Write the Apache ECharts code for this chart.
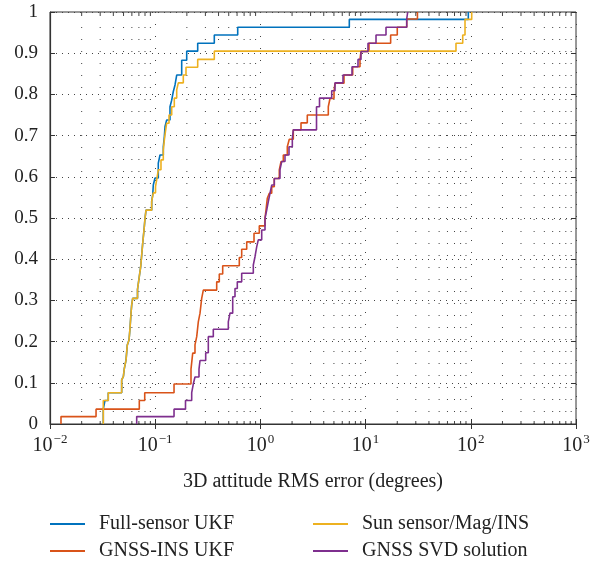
<!DOCTYPE html>
<html>
<head>
<meta charset="utf-8">
<script src="https://cdn.jsdelivr.net/npm/echarts@6/dist/echarts.min.js"></script>
<style>
  html, body { margin: 0; padding: 0; background: #fff; }
  #chart { width: 608px; height: 562px; }
</style>
</head>
<body>
<div id="chart"></div>
<script>
// empirical CDF steps: error (deg) where each curve jumps, and the level it jumps to
const fullX = [0.0321, 0.0333, 0.0358, 0.0480, 0.0498, 0.0509, 0.0528, 0.0543, 0.0564, 0.0576, 0.0589, 0.0598, 0.0611, 0.0679, 0.0706, 0.0728, 0.0744, 0.0761, 0.0783, 0.0800, 0.0818, 0.0926, 0.0947, 0.0959, 0.0996, 0.1070, 0.1111, 0.1194, 0.1221, 0.1240, 0.1286, 0.1382, 0.1435, 0.1486, 0.1543, 0.1601, 0.1786, 0.1993, 0.2535, 0.3646, 0.6085, 7.0, 94.7];
const fullY = [0.036, 0.057, 0.076, 0.107, 0.115, 0.135, 0.155, 0.192, 0.204, 0.232, 0.269, 0.289, 0.305, 0.327, 0.358, 0.382, 0.410, 0.439, 0.471, 0.499, 0.519, 0.540, 0.556, 0.580, 0.597, 0.633, 0.653, 0.673, 0.697, 0.722, 0.738, 0.770, 0.786, 0.807, 0.823, 0.847, 0.883, 0.905, 0.924, 0.944, 0.963, 0.982, 1.0];

const gnssInsX = [0.01272, 0.0274, 0.0706, 0.0795, 0.151, 0.2189, 0.2273, 0.2389, 0.2481, 0.2569, 0.2667, 0.2767, 0.2866, 0.3842, 0.4067, 0.4381, 0.6301, 0.6640, 0.7411, 0.8695, 0.9761, 1.106, 1.130, 1.163, 1.215, 1.281, 1.355, 1.512, 1.570, 1.651, 1.802, 1.882, 2.055, 2.432, 2.791, 4.420, 4.588, 5.008, 5.119, 6.233, 7.542, 8.846, 9.04, 10.77, 17.3, 20.0, 24.6, 31.1];
const gnssInsY = [0.018, 0.036, 0.057, 0.076, 0.097, 0.133, 0.172, 0.192, 0.212, 0.248, 0.269, 0.305, 0.325, 0.345, 0.364, 0.384, 0.404, 0.424, 0.442, 0.463, 0.481, 0.500, 0.519, 0.548, 0.560, 0.576, 0.596, 0.617, 0.637, 0.653, 0.673, 0.691, 0.714, 0.731, 0.750, 0.770, 0.790, 0.807, 0.827, 0.847, 0.867, 0.885, 0.904, 0.924, 0.944, 0.963, 0.983, 1.0];

const sunMagX = [0.0321, 0.0358, 0.0480, 0.0498, 0.0509, 0.0528, 0.0543, 0.0564, 0.0576, 0.0589, 0.0598, 0.0611, 0.0679, 0.0706, 0.0728, 0.0744, 0.0761, 0.0783, 0.0800, 0.0818, 0.0926, 0.0959, 0.1007, 0.1040, 0.1070, 0.1135, 0.1194, 0.1221, 0.1253, 0.1286, 0.1353, 0.1435, 0.1519, 0.1601, 0.1658, 0.1850, 0.1962, 0.2535, 0.3646, 72.3, 83.8, 88.1, 102];
const sunMagY = [0.057, 0.076, 0.107, 0.115, 0.135, 0.155, 0.192, 0.204, 0.232, 0.269, 0.289, 0.305, 0.327, 0.358, 0.382, 0.410, 0.439, 0.471, 0.499, 0.519, 0.540, 0.561, 0.576, 0.597, 0.617, 0.641, 0.665, 0.689, 0.711, 0.730, 0.750, 0.770, 0.791, 0.811, 0.828, 0.847, 0.866, 0.885, 0.905, 0.924, 0.944, 0.982, 1.0];

const svdX = [0.0667, 0.151, 0.1941, 0.2223, 0.2302, 0.2389, 0.2608, 0.2667, 0.3020, 0.3198, 0.3567, 0.4955, 0.5140, 0.5454, 0.5735, 0.6031, 0.6640, 0.8561, 0.8886, 0.9222, 0.9550, 1.029, 1.106, 1.148, 1.189, 1.234, 1.281, 1.355, 1.535, 1.594, 1.713, 1.870, 2.011, 2.055, 3.415, 3.646, 4.762, 5.119, 6.098, 7.427, 8.469, 9.04, 10.54, 12.56, 15.63, 24.6, 25.13];
const svdY = [0.018, 0.036, 0.057, 0.076, 0.097, 0.114, 0.133, 0.154, 0.173, 0.212, 0.230, 0.248, 0.269, 0.309, 0.329, 0.345, 0.366, 0.386, 0.406, 0.430, 0.447, 0.471, 0.499, 0.519, 0.540, 0.560, 0.580, 0.596, 0.617, 0.637, 0.653, 0.673, 0.693, 0.714, 0.770, 0.791, 0.809, 0.828, 0.847, 0.867, 0.885, 0.904, 0.924, 0.944, 0.963, 0.983, 1.0];

const names = ['Full-sensor UKF', 'GNSS-INS UKF', 'Sun sensor/Mag/INS', 'GNSS SVD solution'];
const colors = ['#0072BD', '#D95319', '#EDB120', '#7E2F8E'];

const decades = [0.01, 0.1, 1, 10, 100];
const minorMult = [2, 3, 4, 5, 6, 7, 8, 9];

const FONT = "'Liberation Serif', 'DejaVu Serif', serif";
const INK = '#222';

// curve starts at zero, then climbs at each step
function stepData(xs, ys) {
  const pts = [[xs[0], 0]];
  xs.forEach((x, i) => pts.push([x, ys[i]]));
  return pts;
}

const minorGrid = [];
decades.forEach(d => minorMult.forEach(m => minorGrid.push([+(d * m).toPrecision(3), 0])));

function renderMinor(params, api) {
  const x = api.value(0);
  const b = api.coord([x, 0]);
  const t = api.coord([x, 1]);
  return {
    type: 'group',
    children: [
      { type: 'line', shape: { x1: b[0], y1: b[1], x2: t[0], y2: t[1] },
        style: { stroke: '#444', lineWidth: 1, lineDash: [1, 11] } },
      { type: 'line', shape: { x1: b[0], y1: b[1], x2: b[0], y2: b[1] - 3 },
        style: { stroke: '#444', lineWidth: 1 } },
      { type: 'line', shape: { x1: t[0], y1: t[1], x2: t[0], y2: t[1] + 3 },
        style: { stroke: '#444', lineWidth: 1 } }
    ]
  };
}

function lineSeries(i, xs, ys) {
  return {
    name: names[i],
    type: 'line',
    step: 'end',
    symbol: 'none',
    silent: true,
    z: 5,
    data: stepData(xs, ys),
    lineStyle: { color: colors[i], width: 1.6 },
    itemStyle: { color: colors[i] }
  };
}

// one legend per entry, laid out in two columns
function legendItem(i, left, top) {
  return {
    data: [names[i]],
    left: left,
    top: top,
    icon: 'rect',
    itemWidth: 35,
    itemHeight: 2,
    padding: 0,
    textStyle: { fontFamily: FONT, fontSize: 20, color: INK, padding: [0, 0, 0, 9] }
  };
}

const chart = echarts.init(document.getElementById('chart'), null, { renderer: 'canvas' });

chart.setOption({
  backgroundColor: '#fff',
  animation: false,
  grid: {
    left: 50, right: 32, top: 12, bottom: 138,
    show: true, borderColor: '#333', borderWidth: 1
  },
  legend: [
    legendItem(0, 50, 514),
    legendItem(1, 50, 541),
    legendItem(2, 313, 514),
    legendItem(3, 313, 541)
  ],
  xAxis: [{
    type: 'log',
    logBase: 10,
    min: 0.01,
    max: 1000,
    name: '3D attitude RMS error (degrees)',
    nameLocation: 'middle',
    nameGap: 48,
    nameTextStyle: { fontFamily: FONT, fontSize: 20, color: INK },
    axisLine: { lineStyle: { color: '#333', width: 1.2 } },
    axisTick: { inside: true, length: 5, lineStyle: { color: '#333' } },
    axisLabel: {
      margin: 9,
      formatter: v => {
        const e = Math.round(Math.log10(v));
        return '{b|10}{s|' + (e < 0 ? '\u2212' + (-e) : e) + '}';
      },
      rich: {
        b: { fontFamily: FONT, fontSize: 20, color: INK },
        s: { fontFamily: FONT, fontSize: 13, color: INK, padding: [0, 0, 13, 1] }
      }
    },
    splitLine: { show: true, lineStyle: { color: '#444', width: 1, type: [1, 11] } }
  }, {
    type: 'log',
    logBase: 10,
    min: 0.01,
    max: 1000,
    position: 'top',
    axisLine: { show: false },
    axisTick: { inside: true, length: 5, lineStyle: { color: '#333' } },
    axisLabel: { show: false },
    splitLine: { show: false }
  }],
  yAxis: [{
    type: 'value',
    min: 0,
    max: 1,
    interval: 0.1,
    axisLine: { show: true, lineStyle: { color: '#333', width: 1.2 } },
    axisTick: { show: true, inside: true, length: 5, lineStyle: { color: '#333' } },
    axisLabel: { margin: 12, fontFamily: FONT, fontSize: 19, color: INK },
    splitLine: { show: true, lineStyle: { color: '#444', width: 1, type: [1, 5] } }
  }, {
    type: 'value',
    min: 0,
    max: 1,
    interval: 0.1,
    position: 'right',
    axisLine: { show: false },
    axisTick: { show: true, inside: true, length: 5, lineStyle: { color: '#333' } },
    axisLabel: { show: false },
    splitLine: { show: false }
  }],
  series: [
    {
      type: 'custom',
      silent: true,
      z: 1,
      renderItem: renderMinor,
      data: minorGrid,
      encode: { x: 0, y: 1 },
      clip: false
    },
    lineSeries(0, fullX, fullY),
    lineSeries(1, gnssInsX, gnssInsY),
    lineSeries(2, sunMagX, sunMagY),
    lineSeries(3, svdX, svdY)
  ]
});
</script>
</body>
</html>
